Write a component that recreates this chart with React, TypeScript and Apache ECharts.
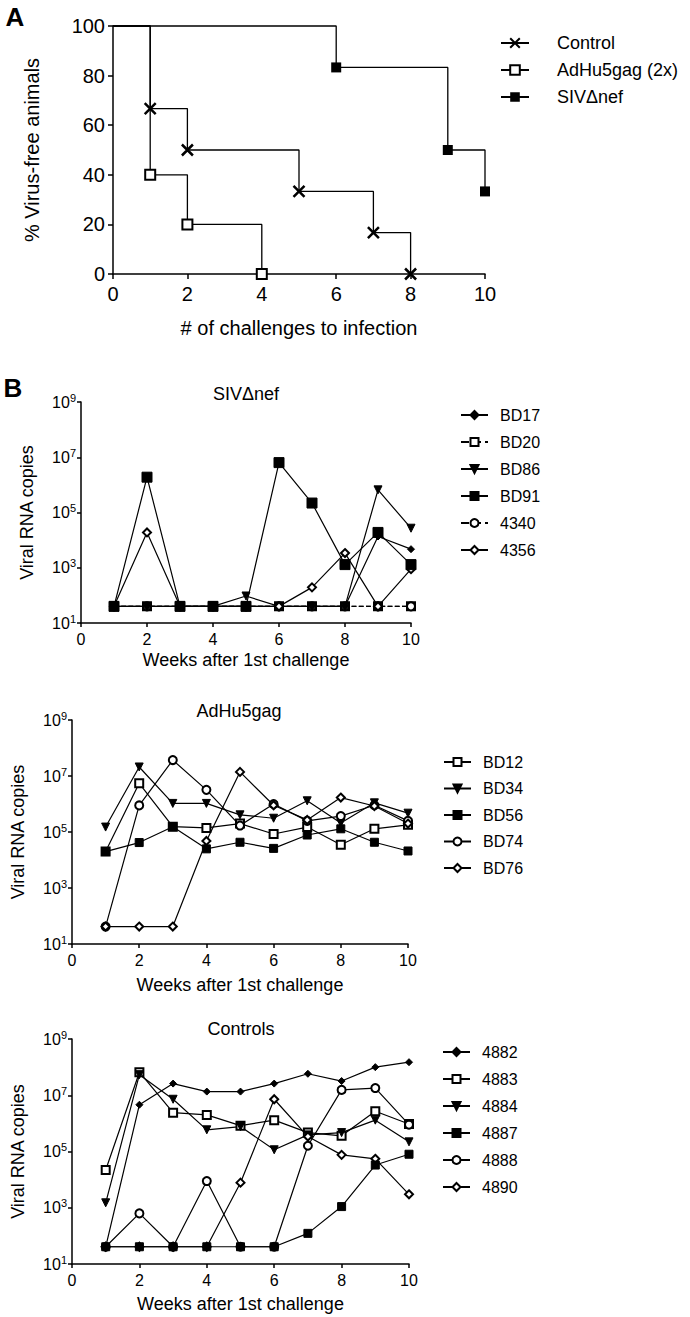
import React, { useEffect, useRef } from 'react';
import * as echarts from 'echarts';

const FONT = '"Liberation Sans", Arial, Helvetica, sans-serif';

// ---------- Panel A: Kaplan-Meier style ----------
const kmNames = ['Control', 'AdHu5gag (2x)', 'SIVΔnef'];
const controlChallenges = [0, 1, 2, 5, 7, 8];
const controlFree = [100, 66.7, 50, 33.3, 16.7, 0];
const adhuChallenges = [0, 1, 2, 4];
const adhuFree = [100, 40, 20, 0];
const sivChallenges = [0, 6, 9, 10];
const sivFree = [100, 83.3, 50, 33.3];

// ---------- Panel B ----------
const weeks = [1, 2, 3, 4, 5, 6, 7, 8, 9, 10];

const sivNames = ['BD17', 'BD20', 'BD86', 'BD91', '4340', '4356'];
const sivBD17 = [40, 40, 40, 40, 40, 40, 40, 40, 13500, 4700];
const sivBD20 = [40, 40, 40, 40, 40, 40, 40, 40, 40, 40];
const sivBD86 = [40, 40, 40, 40, 95, 40, 40, 40, 660000, 27000];
const sivBD91 = [40, 1900000, 40, 40, 40, 6400000, 220000, 1300, 19000, 1300];
const siv4340 = [40, 40, 40, 40, 40, 40, 40, 40, 40, 40];
const siv4356 = [40, 19000, 40, 40, 40, 40, 195, 3400, 40, 890];

const adNames = ['BD12', 'BD34', 'BD56', 'BD74', 'BD76'];
const adBD12 = [20000, 5500000, 155000, 140000, 200000, 85000, 150000, 35000, 130000, 180000];
const adBD34 = [150000, 21000000, 1050000, 1050000, 410000, 310000, 1300000, 210000, 1100000, 470000];
const adBD56 = [20000, 42000, 155000, 25000, 43000, 26000, 78000, 130000, 43000, 21000];
const adBD74 = [42, 890000, 37000000, 3200000, 170000, 1000000, 250000, 370000, 900000, 250000];
const adBD76 = [42, 42, 42, 48000, 14000000, 900000, 270000, 1700000, 850000, 200000];

const ctNames = ['4882', '4883', '4884', '4887', '4888', '4890'];
const ct4882 = [41, 4600000, 26000000, 13500000, 13500000, 26000000, 58000000, 32000000, 100000000, 150000000];
const ct4883 = [22000, 66000000, 2400000, 2000000, 830000, 1300000, 470000, 360000, 2700000, 950000];
const ct4884 = [1500, 54000000, 7200000, 590000, 770000, 115000, 390000, 470000, 1300000, 220000];
const ct4887 = [41, 41, 41, 41, 41, 41, 123, 1100, 33000, 80000];
const ct4888 = [41, 630, 41, 8900, 41, 41, 160000, 15500000, 18000000, 900000];
const ct4890 = [41, 41, 41, 41, 7800, 7200000, 340000, 76000, 55000, 3000];

const CROSS = 'path://M0,0L10,10M10,0L0,10';
const TRI_DOWN = 'path://M0,0L10,0L5,9Z';

type Sty = { symbol: string; size: number };
const FILLED_DIAMOND: Sty = { symbol: 'diamond', size: 7 };
const OPEN_SQUARE: Sty = { symbol: 'emptyRect', size: 8 };
const DOWN_TRI: Sty = { symbol: TRI_DOWN, size: 8 };
const FILLED_SQUARE: Sty = { symbol: 'rect', size: 8 };
const OPEN_CIRCLE: Sty = { symbol: 'emptyCircle', size: 8 };
const OPEN_DIAMOND: Sty = { symbol: 'emptyDiamond', size: 8 };

function weekSeries(name: string, values: number[], idx: number, sty: Sty, dashed = false, big = false) {
  return {
    type: 'line',
    name,
    xAxisIndex: idx,
    yAxisIndex: idx,
    data: weeks.map((w, i) => [w, Math.log10(values[i])]),
    symbol: sty.symbol,
    symbolSize: big ? sty.size + 2 : sty.size,
    showSymbol: true,
    clip: false,
    itemStyle: { color: '#000', borderColor: '#000', borderWidth: 1 },
    lineStyle: { color: '#000', width: 1.2, type: dashed ? 'dashed' : 'solid' },
    emphasis: { disabled: true },
  };
}

function kmSeries(name: string, xs: number[], ys: number[], symbol: string, size: number, item: any) {
  return {
    type: 'line',
    name,
    step: 'end',
    xAxisIndex: 0,
    yAxisIndex: 0,
    data: xs.map((x, i) => (i === 0 ? { value: [x, ys[i]], symbol: 'none' } : [x, ys[i]])),
    symbol,
    symbolSize: size,
    clip: false,
    itemStyle: item,
    lineStyle: { color: '#000', width: 1.3 },
    emphasis: { disabled: true },
  };
}

const axisLineStyle = { color: '#000', width: 1.5 };

function weeksX(gi: number, gap: number) {
  return {
    gridIndex: gi,
    type: 'value',
    min: 0,
    max: 10,
    interval: 2,
    name: 'Weeks after 1st challenge',
    nameLocation: 'middle',
    nameGap: gap,
    nameTextStyle: { fontSize: 18, color: '#000', fontFamily: FONT },
    axisLine: { onZero: false, lineStyle: axisLineStyle },
    axisTick: { show: true, length: 4, lineStyle: axisLineStyle },
    axisLabel: { fontSize: 16, color: '#000', margin: 8, fontFamily: FONT },
    splitLine: { show: false },
  };
}

function viralY(gi: number) {
  return {
    gridIndex: gi,
    type: 'value',
    min: 1,
    max: 9,
    interval: 2,
    name: 'Viral RNA copies',
    nameLocation: 'middle',
    nameRotate: 90,
    nameGap: 45,
    nameTextStyle: { fontSize: 18, color: '#000', fontFamily: FONT },
    axisLine: { onZero: false, lineStyle: axisLineStyle },
    axisTick: { show: true, length: 4, lineStyle: axisLineStyle },
    axisLabel: {
      fontSize: 16,
      color: '#000',
      margin: 5,
      fontFamily: FONT,
      lineHeight: 20,
      formatter: (v: number) => `10{s|${Math.round(v)}}`,
      rich: { s: { fontSize: 11, verticalAlign: 'top', lineHeight: 11, color: '#000', fontFamily: FONT } },
    },
    splitLine: { show: false },
  };
}

function bLegend(names: string[], left: number, top: number, gap: number) {
  return {
    data: names,
    orient: 'vertical',
    left,
    top,
    padding: 0,
    itemWidth: 27,
    itemHeight: 10,
    itemGap: gap,
    selectedMode: false,
    textStyle: { fontSize: 16, color: '#000', fontFamily: FONT, lineHeight: 16, padding: [0, 0, 0, 7] },
  };
}

export default function App() {
  const ref = useRef<HTMLDivElement>(null);
  useEffect(() => {
    if (!ref.current) return;
    const chart = echarts.init(ref.current, null, { renderer: 'svg', width: 690, height: 1317 });
    const option: any = {
      animation: false,
      backgroundColor: '#fff',
      textStyle: { fontFamily: FONT },
      grid: [
        { left: 113, top: 26, width: 372, height: 248 },
        { left: 81, top: 402, width: 330, height: 221 },
        { left: 72, top: 720, width: 336, height: 224 },
        { left: 72, top: 1039, width: 337, height: 225 },
      ],
      xAxis: [
        {
          gridIndex: 0,
          type: 'value',
          min: 0,
          max: 10,
          interval: 2,
          name: '# of challenges to infection',
          nameLocation: 'middle',
          nameGap: 44,
          nameTextStyle: { fontSize: 20, color: '#000', fontFamily: FONT },
          axisLine: { onZero: false, lineStyle: axisLineStyle },
          axisTick: { show: true, length: 5, lineStyle: axisLineStyle },
          axisLabel: { fontSize: 20, color: '#000', margin: 10, fontFamily: FONT },
          splitLine: { show: false },
        },
        weeksX(1, 28),
        weeksX(2, 32),
        weeksX(3, 31),
      ],
      yAxis: [
        {
          gridIndex: 0,
          type: 'value',
          min: 0,
          max: 100,
          interval: 20,
          name: '% Virus-free animals',
          nameLocation: 'middle',
          nameRotate: 90,
          nameGap: 71,
          nameTextStyle: { fontSize: 20, color: '#000', fontFamily: FONT },
          axisLine: { onZero: false, lineStyle: axisLineStyle },
          axisTick: { show: true, length: 5, lineStyle: axisLineStyle },
          axisLabel: { fontSize: 20, color: '#000', margin: 8, fontFamily: FONT },
          splitLine: { show: false },
        },
        viralY(1),
        viralY(2),
        viralY(3),
      ],
      legend: [
        {
          data: kmNames,
          orient: 'vertical',
          left: 500,
          top: 34,
          padding: 0,
          itemWidth: 28,
          itemHeight: 12,
          itemGap: 9,
          selectedMode: false,
          textStyle: { fontSize: 18, color: '#000', fontFamily: FONT, lineHeight: 18, padding: [0, 0, 0, 23] },
        },
        bLegend(sivNames, 460, 407, 11),
        bLegend(adNames, 443, 754, 10.5),
        bLegend(ctNames, 442, 1044, 11),
      ],
      graphic: [
        { type: 'text', x: 15, y: 17, style: { text: 'A', font: `bold 26px ${FONT}`, fill: '#000', textAlign: 'center', textVerticalAlign: 'middle' } },
        { type: 'text', x: 13, y: 388, style: { text: 'B', font: `bold 26px ${FONT}`, fill: '#000', textAlign: 'center', textVerticalAlign: 'middle' } },
        { type: 'text', x: 246, y: 394, style: { text: 'SIVΔnef', font: `18px ${FONT}`, fill: '#000', textAlign: 'center', textVerticalAlign: 'middle' } },
        { type: 'text', x: 239, y: 711, style: { text: 'AdHu5gag', font: `18px ${FONT}`, fill: '#000', textAlign: 'center', textVerticalAlign: 'middle' } },
        { type: 'text', x: 241, y: 1029, style: { text: 'Controls', font: `18px ${FONT}`, fill: '#000', textAlign: 'center', textVerticalAlign: 'middle' } },
      ],
      series: [
        kmSeries(kmNames[0], controlChallenges, controlFree, CROSS, 11, { color: '#000', borderColor: '#000', borderWidth: 2.5 }),
        kmSeries(kmNames[1], adhuChallenges, adhuFree, 'emptyRect', 10, { color: '#000' }),
        kmSeries(kmNames[2], sivChallenges, sivFree, 'rect', 10, { color: '#000' }),

        weekSeries('BD20', sivBD20, 1, OPEN_SQUARE, true),
        weekSeries('4340', siv4340, 1, OPEN_CIRCLE, true),
        weekSeries('BD17', sivBD17, 1, FILLED_DIAMOND),
        weekSeries('BD86', sivBD86, 1, DOWN_TRI),
        weekSeries('4356', siv4356, 1, OPEN_DIAMOND),
        weekSeries('BD91', sivBD91, 1, FILLED_SQUARE, false, true),

        weekSeries('BD12', adBD12, 2, OPEN_SQUARE),
        weekSeries('BD34', adBD34, 2, DOWN_TRI),
        weekSeries('BD56', adBD56, 2, FILLED_SQUARE),
        weekSeries('BD74', adBD74, 2, OPEN_CIRCLE),
        weekSeries('BD76', adBD76, 2, OPEN_DIAMOND),

        weekSeries('4882', ct4882, 3, FILLED_DIAMOND),
        weekSeries('4883', ct4883, 3, OPEN_SQUARE),
        weekSeries('4884', ct4884, 3, DOWN_TRI),
        weekSeries('4890', ct4890, 3, OPEN_DIAMOND),
        weekSeries('4888', ct4888, 3, OPEN_CIRCLE),
        weekSeries('4887', ct4887, 3, FILLED_SQUARE),
      ],
    };
    chart.setOption(option);
    return () => chart.dispose();
  }, []);
  return <div ref={ref} style={{ position: 'absolute', left: 0, top: 0, width: 690, height: 1317 }} />;
}
